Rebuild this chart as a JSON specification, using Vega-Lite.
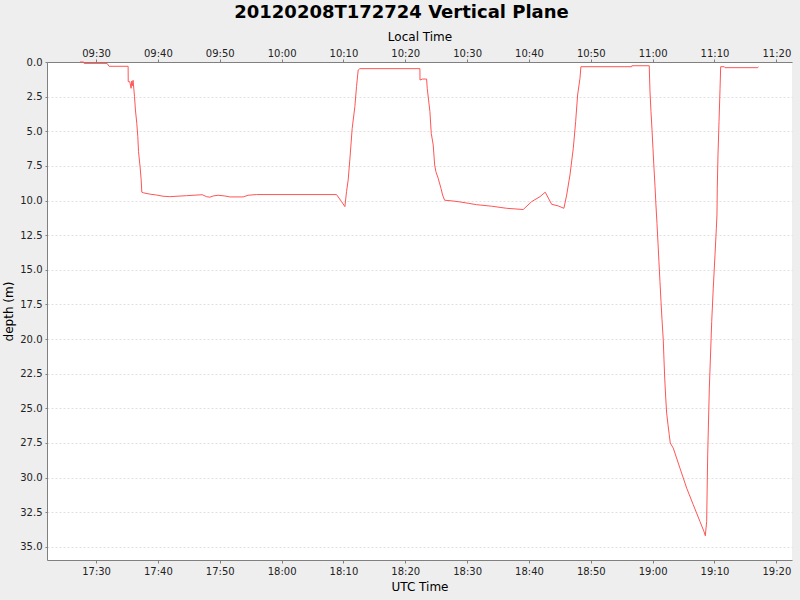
{
  "$schema": "https://vega.github.io/schema/vega-lite/v6.json",
  "width": 745,
  "height": 498,
  "autosize": "none",
  "padding": {"left": 47, "top": 62, "right": 8, "bottom": 40},
  "background": "#eeeeee",
  "view": {"fill": "white", "stroke": null},
  "title": {
    "text": "20120208T172724 Vertical Plane",
    "font": "DejaVu Sans",
    "fontSize": 18,
    "fontWeight": "bold",
    "color": "#000000",
    "anchor": "middle",
    "dx": -18,
    "offset": 8
  },
  "config": {
    "axis": {
      "labelFont": "DejaVu Sans",
      "labelFontSize": 10,
      "labelColor": "#222222",
      "titleFont": "DejaVu Sans",
      "titleFontSize": 12,
      "titleFontWeight": "normal",
      "titleColor": "#000000",
      "domainColor": "#808080",
      "tickColor": "#808080",
      "tickSize": 3,
      "labelPadding": 3
    }
  },
  "data": {
    "values": [
      {"t": "2012-02-08T17:27:24Z", "d": 0.0},
      {"t": "2012-02-08T17:28:00Z", "d": 0.0},
      {"t": "2012-02-08T17:28:04Z", "d": 0.1},
      {"t": "2012-02-08T17:31:47Z", "d": 0.1},
      {"t": "2012-02-08T17:32:06Z", "d": 0.31},
      {"t": "2012-02-08T17:35:11Z", "d": 0.31},
      {"t": "2012-02-08T17:35:12Z", "d": 1.42},
      {"t": "2012-02-08T17:35:27Z", "d": 1.42},
      {"t": "2012-02-08T17:35:40Z", "d": 1.9},
      {"t": "2012-02-08T17:35:47Z", "d": 1.37},
      {"t": "2012-02-08T17:35:53Z", "d": 1.71},
      {"t": "2012-02-08T17:35:59Z", "d": 1.32},
      {"t": "2012-02-08T17:36:13Z", "d": 2.5},
      {"t": "2012-02-08T17:36:22Z", "d": 3.46},
      {"t": "2012-02-08T17:36:35Z", "d": 4.42},
      {"t": "2012-02-08T17:36:45Z", "d": 5.39},
      {"t": "2012-02-08T17:36:52Z", "d": 6.47},
      {"t": "2012-02-08T17:37:07Z", "d": 7.55},
      {"t": "2012-02-08T17:37:17Z", "d": 8.44},
      {"t": "2012-02-08T17:37:24Z", "d": 9.4},
      {"t": "2012-02-08T17:37:43Z", "d": 9.45},
      {"t": "2012-02-08T17:38:51Z", "d": 9.55},
      {"t": "2012-02-08T17:39:46Z", "d": 9.6},
      {"t": "2012-02-08T17:40:50Z", "d": 9.69},
      {"t": "2012-02-08T17:41:55Z", "d": 9.72},
      {"t": "2012-02-08T17:44:37Z", "d": 9.65},
      {"t": "2012-02-08T17:47:09Z", "d": 9.58},
      {"t": "2012-02-08T17:47:52Z", "d": 9.72},
      {"t": "2012-02-08T17:48:24Z", "d": 9.76},
      {"t": "2012-02-08T17:48:56Z", "d": 9.67},
      {"t": "2012-02-08T17:49:44Z", "d": 9.62},
      {"t": "2012-02-08T17:50:49Z", "d": 9.67},
      {"t": "2012-02-08T17:51:38Z", "d": 9.74},
      {"t": "2012-02-08T17:53:47Z", "d": 9.74},
      {"t": "2012-02-08T17:54:35Z", "d": 9.62},
      {"t": "2012-02-08T17:55:57Z", "d": 9.57},
      {"t": "2012-02-08T18:08:53Z", "d": 9.57},
      {"t": "2012-02-08T18:09:42Z", "d": 10.08},
      {"t": "2012-02-08T18:10:14Z", "d": 10.44},
      {"t": "2012-02-08T18:10:30Z", "d": 9.36},
      {"t": "2012-02-08T18:10:46Z", "d": 8.51},
      {"t": "2012-02-08T18:11:02Z", "d": 7.07},
      {"t": "2012-02-08T18:11:25Z", "d": 4.79},
      {"t": "2012-02-08T18:11:51Z", "d": 3.22},
      {"t": "2012-02-08T18:12:07Z", "d": 1.78},
      {"t": "2012-02-08T18:12:23Z", "d": 0.58},
      {"t": "2012-02-08T18:12:39Z", "d": 0.48},
      {"t": "2012-02-08T18:22:22Z", "d": 0.48},
      {"t": "2012-02-08T18:22:23Z", "d": 1.3},
      {"t": "2012-02-08T18:22:48Z", "d": 1.23},
      {"t": "2012-02-08T18:23:27Z", "d": 1.23},
      {"t": "2012-02-08T18:23:33Z", "d": 1.9},
      {"t": "2012-02-08T18:23:46Z", "d": 2.74},
      {"t": "2012-02-08T18:23:59Z", "d": 3.58},
      {"t": "2012-02-08T18:24:12Z", "d": 5.15},
      {"t": "2012-02-08T18:24:31Z", "d": 5.99},
      {"t": "2012-02-08T18:24:45Z", "d": 7.43},
      {"t": "2012-02-08T18:24:57Z", "d": 7.91},
      {"t": "2012-02-08T18:25:19Z", "d": 8.39},
      {"t": "2012-02-08T18:25:46Z", "d": 9.11},
      {"t": "2012-02-08T18:26:02Z", "d": 9.6},
      {"t": "2012-02-08T18:26:22Z", "d": 9.98},
      {"t": "2012-02-08T18:27:39Z", "d": 10.03},
      {"t": "2012-02-08T18:28:50Z", "d": 10.1},
      {"t": "2012-02-08T18:30:11Z", "d": 10.2},
      {"t": "2012-02-08T18:31:32Z", "d": 10.3},
      {"t": "2012-02-08T18:33:58Z", "d": 10.41},
      {"t": "2012-02-08T18:36:23Z", "d": 10.56},
      {"t": "2012-02-08T18:39:04Z", "d": 10.65},
      {"t": "2012-02-08T18:40:26Z", "d": 10.08},
      {"t": "2012-02-08T18:41:47Z", "d": 9.72},
      {"t": "2012-02-08T18:42:38Z", "d": 9.4},
      {"t": "2012-02-08T18:43:40Z", "d": 10.27},
      {"t": "2012-02-08T18:44:44Z", "d": 10.39},
      {"t": "2012-02-08T18:45:39Z", "d": 10.56},
      {"t": "2012-02-08T18:46:06Z", "d": 9.6},
      {"t": "2012-02-08T18:46:38Z", "d": 8.15},
      {"t": "2012-02-08T18:47:10Z", "d": 6.23},
      {"t": "2012-02-08T18:47:33Z", "d": 4.3},
      {"t": "2012-02-08T18:47:52Z", "d": 2.38},
      {"t": "2012-02-08T18:48:15Z", "d": 1.18},
      {"t": "2012-02-08T18:48:24Z", "d": 0.34},
      {"t": "2012-02-08T18:56:37Z", "d": 0.34},
      {"t": "2012-02-08T18:56:38Z", "d": 0.27},
      {"t": "2012-02-08T18:59:27Z", "d": 0.27},
      {"t": "2012-02-08T18:59:34Z", "d": 2.09},
      {"t": "2012-02-08T18:59:44Z", "d": 3.58},
      {"t": "2012-02-08T18:59:54Z", "d": 4.9},
      {"t": "2012-02-08T19:00:03Z", "d": 6.23},
      {"t": "2012-02-08T19:00:13Z", "d": 7.67},
      {"t": "2012-02-08T19:00:23Z", "d": 9.0},
      {"t": "2012-02-08T19:00:32Z", "d": 10.32},
      {"t": "2012-02-08T19:00:42Z", "d": 11.64},
      {"t": "2012-02-08T19:00:52Z", "d": 13.08},
      {"t": "2012-02-08T19:01:01Z", "d": 14.4},
      {"t": "2012-02-08T19:01:11Z", "d": 15.85},
      {"t": "2012-02-08T19:01:21Z", "d": 17.29},
      {"t": "2012-02-08T19:01:31Z", "d": 18.61},
      {"t": "2012-02-08T19:01:43Z", "d": 20.06},
      {"t": "2012-02-08T19:01:50Z", "d": 21.5},
      {"t": "2012-02-08T19:01:57Z", "d": 22.82},
      {"t": "2012-02-08T19:02:07Z", "d": 24.26},
      {"t": "2012-02-08T19:02:16Z", "d": 25.35},
      {"t": "2012-02-08T19:02:29Z", "d": 26.19},
      {"t": "2012-02-08T19:02:41Z", "d": 26.9},
      {"t": "2012-02-08T19:02:51Z", "d": 27.51},
      {"t": "2012-02-08T19:03:20Z", "d": 27.87},
      {"t": "2012-02-08T19:04:25Z", "d": 29.32},
      {"t": "2012-02-08T19:05:30Z", "d": 30.76},
      {"t": "2012-02-08T19:06:34Z", "d": 31.96},
      {"t": "2012-02-08T19:07:39Z", "d": 33.17},
      {"t": "2012-02-08T19:08:18Z", "d": 33.89},
      {"t": "2012-02-08T19:08:31Z", "d": 34.2},
      {"t": "2012-02-08T19:08:44Z", "d": 33.17},
      {"t": "2012-02-08T19:08:54Z", "d": 28.36},
      {"t": "2012-02-08T19:09:10Z", "d": 23.54},
      {"t": "2012-02-08T19:09:33Z", "d": 18.74},
      {"t": "2012-02-08T19:09:48Z", "d": 16.33},
      {"t": "2012-02-08T19:10:05Z", "d": 13.92},
      {"t": "2012-02-08T19:10:18Z", "d": 12.0},
      {"t": "2012-02-08T19:10:24Z", "d": 11.04},
      {"t": "2012-02-08T19:10:27Z", "d": 9.11},
      {"t": "2012-02-08T19:10:34Z", "d": 6.71},
      {"t": "2012-02-08T19:10:44Z", "d": 4.3},
      {"t": "2012-02-08T19:10:54Z", "d": 1.9},
      {"t": "2012-02-08T19:11:00Z", "d": 0.34},
      {"t": "2012-02-08T19:11:35Z", "d": 0.34},
      {"t": "2012-02-08T19:11:42Z", "d": 0.41},
      {"t": "2012-02-08T19:17:00Z", "d": 0.41},
      {"t": "2012-02-08T19:17:05Z", "d": 0.34}
    ]
  },
  "layer": [
    {
      "mark": {"type": "line", "color": "#ff5555", "strokeWidth": 1},
      "encoding": {
        "x": {
          "field": "t",
          "type": "temporal",
          "scale": {
            "type": "utc",
            "nice": false,
            "domain": [
              {"year": 2012, "month": 2, "date": 8, "hours": 17, "minutes": 22, "seconds": 4, "utc": true},
              {"year": 2012, "month": 2, "date": 8, "hours": 19, "minutes": 22, "seconds": 32, "utc": true}
            ]
          },
          "axis": {
            "orient": "bottom",
            "title": "UTC Time",
            "format": "%H:%M",
            "values": [
              {"year": 2012, "month": 2, "date": 8, "hours": 17, "minutes": 30, "utc": true},
              {"year": 2012, "month": 2, "date": 8, "hours": 17, "minutes": 40, "utc": true},
              {"year": 2012, "month": 2, "date": 8, "hours": 17, "minutes": 50, "utc": true},
              {"year": 2012, "month": 2, "date": 8, "hours": 18, "minutes": 0, "utc": true},
              {"year": 2012, "month": 2, "date": 8, "hours": 18, "minutes": 10, "utc": true},
              {"year": 2012, "month": 2, "date": 8, "hours": 18, "minutes": 20, "utc": true},
              {"year": 2012, "month": 2, "date": 8, "hours": 18, "minutes": 30, "utc": true},
              {"year": 2012, "month": 2, "date": 8, "hours": 18, "minutes": 40, "utc": true},
              {"year": 2012, "month": 2, "date": 8, "hours": 18, "minutes": 50, "utc": true},
              {"year": 2012, "month": 2, "date": 8, "hours": 19, "minutes": 0, "utc": true},
              {"year": 2012, "month": 2, "date": 8, "hours": 19, "minutes": 10, "utc": true},
              {"year": 2012, "month": 2, "date": 8, "hours": 19, "minutes": 20, "utc": true}
            ],
            "grid": false,
            "titlePadding": 5
          }
        },
        "y": {
          "field": "d",
          "type": "quantitative",
          "scale": {"domain": [0, 35.95], "reverse": true, "nice": false, "zero": false},
          "axis": {
            "title": "depth (m)",
            "values": [0, 2.5, 5, 7.5, 10, 12.5, 15, 17.5, 20, 22.5, 25, 27.5, 30, 32.5, 35],
            "format": ".1f",
            "grid": true,
            "gridColor": "#cccccc",
            "gridDash": [2, 2],
            "gridWidth": 0.6,
            "tickSize": 2,
            "titlePadding": 4
          }
        }
      }
    },
    {
      "mark": {"type": "line", "opacity": 0},
      "encoding": {
        "x": {
          "field": "t",
          "type": "temporal",
          "scale": {
            "type": "utc",
            "nice": false,
            "domain": [
              {"year": 2012, "month": 2, "date": 8, "hours": 9, "minutes": 22, "seconds": 4, "utc": true},
              {"year": 2012, "month": 2, "date": 8, "hours": 11, "minutes": 22, "seconds": 32, "utc": true}
            ]
          },
          "axis": {
            "orient": "top",
            "title": "Local Time",
            "format": "%H:%M",
            "values": [
              {"year": 2012, "month": 2, "date": 8, "hours": 9, "minutes": 30, "utc": true},
              {"year": 2012, "month": 2, "date": 8, "hours": 9, "minutes": 40, "utc": true},
              {"year": 2012, "month": 2, "date": 8, "hours": 9, "minutes": 50, "utc": true},
              {"year": 2012, "month": 2, "date": 8, "hours": 10, "minutes": 0, "utc": true},
              {"year": 2012, "month": 2, "date": 8, "hours": 10, "minutes": 10, "utc": true},
              {"year": 2012, "month": 2, "date": 8, "hours": 10, "minutes": 20, "utc": true},
              {"year": 2012, "month": 2, "date": 8, "hours": 10, "minutes": 30, "utc": true},
              {"year": 2012, "month": 2, "date": 8, "hours": 10, "minutes": 40, "utc": true},
              {"year": 2012, "month": 2, "date": 8, "hours": 10, "minutes": 50, "utc": true},
              {"year": 2012, "month": 2, "date": 8, "hours": 11, "minutes": 0, "utc": true},
              {"year": 2012, "month": 2, "date": 8, "hours": 11, "minutes": 10, "utc": true},
              {"year": 2012, "month": 2, "date": 8, "hours": 11, "minutes": 20, "utc": true}
            ],
            "grid": false,
            "labelPadding": 1,
            "titlePadding": 5
          }
        }
      }
    }
  ],
  "resolve": {"scale": {"x": "independent"}, "axis": {"x": "independent"}}
}
